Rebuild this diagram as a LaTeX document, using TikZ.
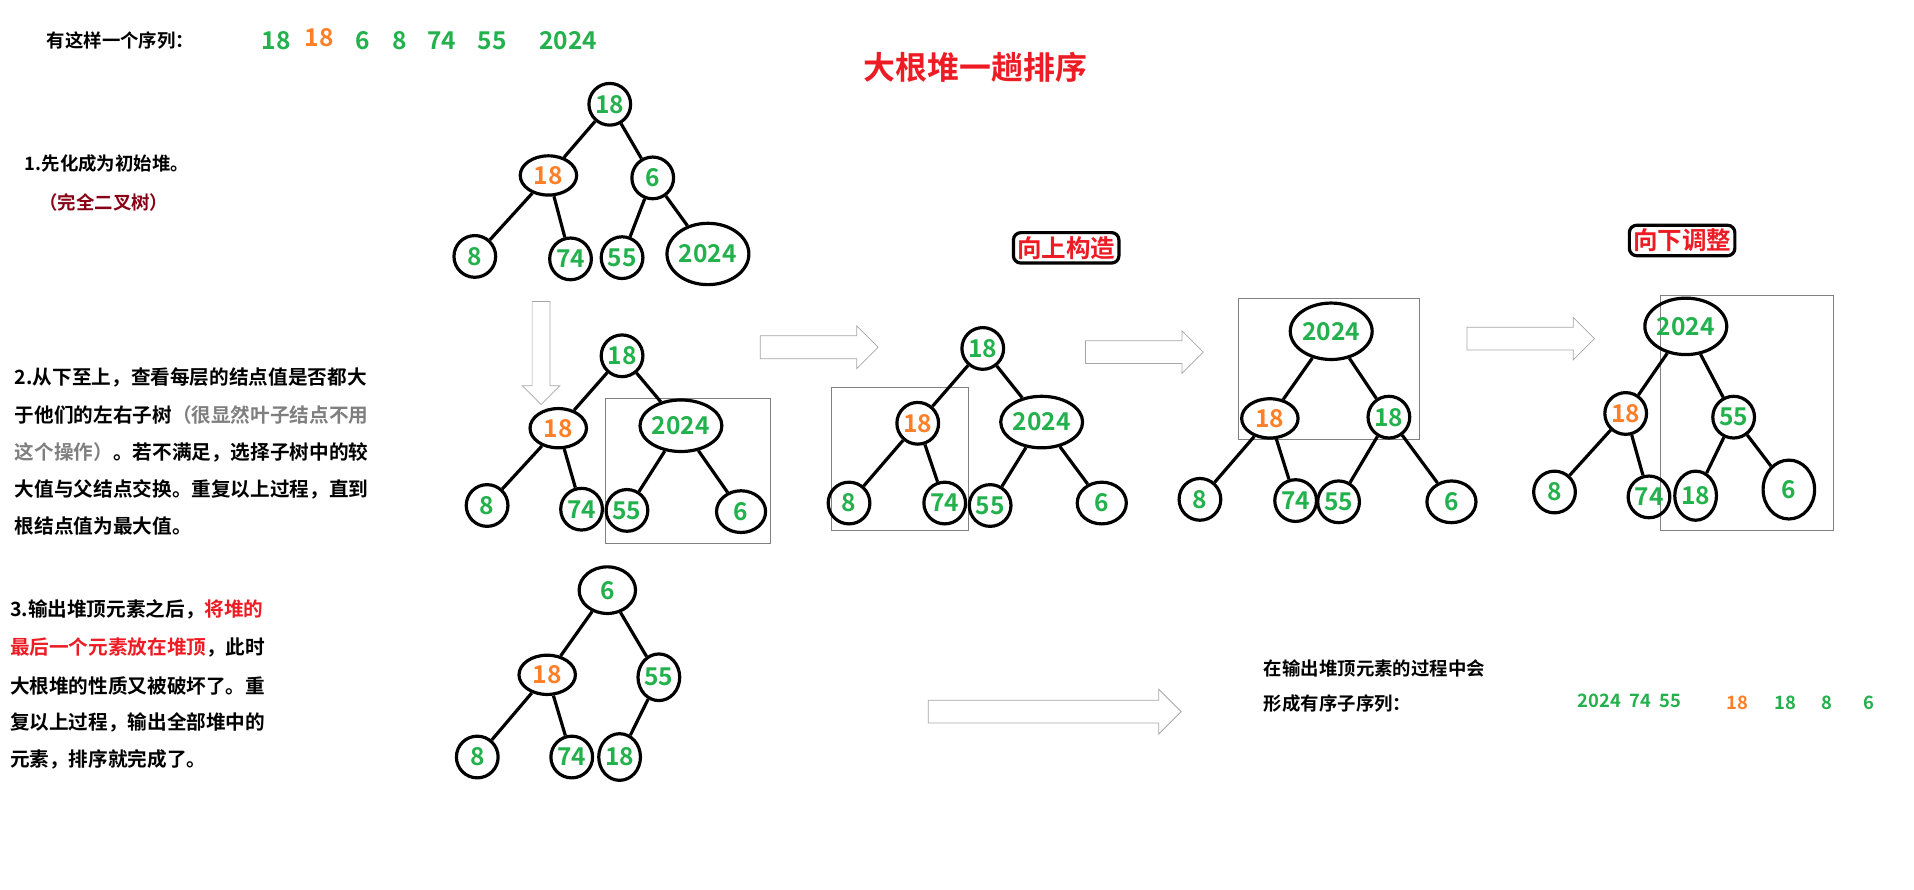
\documentclass[tikz,border=0pt]{standalone}
\usepackage{fontspec}
\usetikzlibrary{shapes.geometric,shapes.arrows}
\setmainfont{Noto Sans CJK SC}[BoldFont={* Bold}]
\definecolor{grn}{HTML}{22B14C}
\definecolor{org}{HTML}{FF7F27}
\definecolor{rd}{HTML}{ED1C24}
\definecolor{drd}{HTML}{880015}
\definecolor{gry}{HTML}{7F7F7F}
\begin{document}
\begin{tikzpicture}[x=1pt,y=-1pt,
 n/.style={ellipse,draw,line width=2.6pt,inner sep=0pt,minimum width=34pt,minimum height=34pt,text=grn,font=\fontsize{20}{20}\selectfont\bfseries},
 w/.style={n,minimum width=46pt,minimum height=32pt},
 big/.style={n,minimum width=66pt,minimum height=42pt},
 o/.style={text=org},
 e/.style={line width=2.6pt},
 bx/.style={draw=gray,line width=0.6pt},
 txt/.style={anchor=west,font=\fontsize{16}{16}\selectfont\bfseries,inner sep=0pt},
 har/.style={single arrow,draw=gray!70,line width=0.6pt,single arrow head extend=8pt,minimum height=96pt,inner xsep=0pt,inner ysep=9pt,text width=0pt,text height=0pt,text depth=0pt},
 lab/.style={draw,line width=2.6pt,rounded corners=6pt,text=rd,font=\fontsize{20}{20}\selectfont\bfseries,inner sep=3pt}]
\useasboundingbox (0,0) rectangle (1560,725);
% header
\node[txt,font=\fontsize{15}{15}\selectfont\bfseries] (h) at (38,33) {有这样一个序列：};
\begin{scope}[every node/.style={font=\fontsize{20}{20}\selectfont\bfseries,text=grn}]
\node (s1) at (225,33) {18};
\node[text=org] (s2) at (260,31) {18};
\node (s3) at (296,33) {6};
\node (s4) at (326,33) {8};
\node (s5) at (360,33) {74};
\node (s6) at (401,33) {55};
\node (s7) at (463,33) {2024};
\end{scope}
\node[font=\fontsize{26}{26}\selectfont\bfseries,text=rd] (title) at (795,55) {大根堆一趟排序};
% text 1
\node[txt,font=\fontsize{15}{15}\selectfont\bfseries] (t1) at (20,133) {1.先化成为初始堆。};
\node[txt,text=drd,font=\fontsize{15}{15}\selectfont\bfseries] (t1b) at (32,165) {（完全二叉树）};
% tree 1
\node[n] (a1) at (497,85) {18};
\node[w,o] (a2) at (447,143) {18};
\node[n] (a3) at (532,145) {6};
\node[n] (a4) at (387,209) {8};
\node[n] (a5) at (465,211) {74};
\node[n] (a6) at (507,210) {55};
\node[n,minimum width=64pt,minimum height=50pt] (a7) at (577,207) {2024};
\draw[e] (a1)--(a2) (a1)--(a3) (a2)--(a4) (a2)--(a5) (a3)--(a6) (a3)--(a7);
\node[har,rotate=-90,minimum height=84pt,inner ysep=7pt] (d1) at (441,284) {};
% text 2
\begin{scope}[every node/.style={txt}]
\node (u1) at (12,308) {2.从下至上，查看每层的结点值是否都大};
\node (u2) at (12,338) {于他们的左右子树\textcolor{gry}{（很显然叶子结点不用}};
\node (u3) at (12,369) {\textcolor{gry}{这个操作）}。若不满足，选择子树中的较};
\node (u4) at (12,399) {大值与父结点交换。重复以上过程，直到};
\node (u5) at (12,429) {根结点值为最大值。};
\end{scope}
% tree 2
\draw[bx] (493,325) rectangle (628,443);
\node[n] (b1) at (507,290) {18};
\node[w,o] (b2) at (455,349) {18};
\node[big] (b3) at (555,347) {2024};
\node[n] (b4) at (397,412) {8};
\node[n] (b5) at (474,415) {74};
\node[n] (b6) at (511,416) {55};
\node[n,minimum width=40pt] (b7) at (604,417) {6};
\draw[e] (b1)--(b2) (b1)--(b3) (b2)--(b4) (b2)--(b5) (b3)--(b6) (b3)--(b7);
\node[har] (r1) at (663,283) {};
% tree 3
\node[lab] (l1) at (869,202) {向上构造};
\draw[bx] (678,316) rectangle (789,432);
\node[n] (c1) at (801,284) {18};
\node[n,o] (c2) at (748,345) {18};
\node[big] (c3) at (849,344) {2024};
\node[n] (c4) at (692,410) {8};
\node[n] (c5) at (770,410) {74};
\node[n] (c6) at (807,412) {55};
\node[n,minimum width=40pt] (c7) at (898,410) {6};
\draw[e] (c1)--(c2) (c1)--(c3) (c2)--(c4) (c2)--(c5) (c3)--(c6) (c3)--(c7);
\node[har] (r2) at (928,287) {};
% tree 4
\draw[bx] (1009,243) rectangle (1157,358);
\node[big,minimum width=64pt,minimum height=46pt] (g1) at (1085,270) {2024};
\node[w,o] (g2) at (1035,341) {18};
\node[n] (g3) at (1132,340) {18};
\node[n] (g4) at (978,407) {8};
\node[n] (g5) at (1056,408) {74};
\node[n] (g6) at (1091,409) {55};
\node[n,minimum width=40pt] (g7) at (1183,409) {6};
\draw[e] (g1)--(g2) (g1)--(g3) (g2)--(g4) (g2)--(g5) (g3)--(g6) (g3)--(g7);
\node[har,minimum height=104pt] (r3) at (1243,276) {};
% tree 5
\node[lab] (l2) at (1371,196) {向下调整};
\draw[bx] (1353,241) rectangle (1494,432);
\node[big,minimum width=64pt,minimum height=46pt] (k1) at (1374,266) {2024};
\node[n,o] (k2) at (1325,337) {18};
\node[n] (k3) at (1413,340) {55};
\node[n] (k4) at (1267,401) {8};
\node[n] (k5) at (1344,405) {74};
\node[n,minimum height=40pt] (k6) at (1382,404) {18};
\node[n,minimum width=42pt,minimum height=48pt] (k7) at (1458,399) {6};
\draw[e] (k1)--(k2) (k1)--(k3) (k2)--(k4) (k2)--(k5) (k3)--(k6) (k3)--(k7);
% text 3
\begin{scope}[every node/.style={txt}]
\node (v1) at (8,497) {3.输出堆顶元素之后，\textcolor{rd}{将堆的}};
\node (v2) at (8,528) {\textcolor{rd}{最后一个元素放在堆顶}，此时};
\node (v3) at (8,559) {大根堆的性质又被破坏了。重};
\node (v4) at (8,589) {复以上过程，输出全部堆中的};
\node (v5) at (8,619) {元素，排序就完成了。};
\end{scope}
% tree 6
\node[n,minimum width=46pt,minimum height=38pt] (m1) at (495,481) {6};
\node[w,o] (m2) at (446,550) {18};
\node[n,minimum height=38pt] (m3) at (537,552) {55};
\node[n] (m4) at (389,617) {8};
\node[n] (m5) at (466,617) {74};
\node[n,minimum height=38pt] (m6) at (505,617) {18};
\draw[e] (m1)--(m2) (m1)--(m3) (m2)--(m4) (m2)--(m5) (m3)--(m6);
\node[har,minimum height=206pt,single arrow head extend=9pt] (r4) at (855,580) {};
% bottom text
\node[txt,font=\fontsize{15}{15}\selectfont\bfseries] (w1) at (1030,545) {在输出堆顶元素的过程中会};
\node[txt,font=\fontsize{15}{15}\selectfont\bfseries] (w2) at (1030,573) {形成有序子序列：};
\begin{scope}[every node/.style={font=\fontsize{15}{15}\selectfont\bfseries,text=grn}]
\node (q1) at (1328,571) {2024\ \ 74\ \ 55};
\node[text=org] (q2) at (1416,573) {18};
\node (q3) at (1455,573) {18};
\node (q4) at (1489,573) {8};
\node (q5) at (1523,573) {6};
\end{scope}
\end{tikzpicture}
\end{document}
